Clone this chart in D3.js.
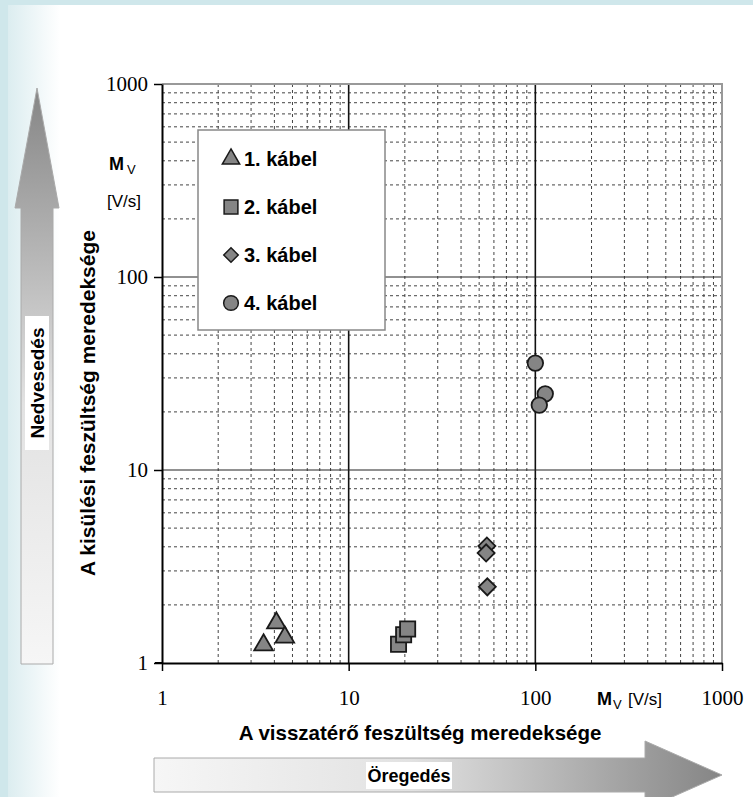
<!DOCTYPE html>
<html>
<head>
<meta charset="utf-8">
<title>Kábelek meredekség</title>
<script src="https://d3js.org/d3.v7.min.js"></script>
<style>
  body {margin: 0; background: #cfe7eb;}
  .lbl {font-family: "Liberation Sans", Arial, sans-serif; font-weight: bold; fill: #000;}
</style>
</head>
<body>
<script>
// adatok
var cables = ["1. kábel", "2. kábel", "3. kábel", "4. kábel"];
var shapes = ["triangle", "square", "diamond", "circle"];
var cable1X = [3.5, 4.1, 4.55], cable1Y = [1.24, 1.61, 1.36];
var cable2X = [18.5, 19.7, 20.7], cable2Y = [1.25, 1.40, 1.50];
var cable3X = [55, 54.5, 55.3], cable3Y = [4.04, 3.72, 2.48];
var cable4X = [100, 113, 105], cable4Y = [35.8, 24.8, 21.7];
var majorTicks = [1, 10, 100, 1000];

var W = 753, H = 797;
var svg = d3.select("body").append("svg").attr("width", W).attr("height", H)
    .style("display", "block");
var defs = svg.append("defs");

// háttér
var bg = defs.append("linearGradient").attr("id", "bg").attr("x1", 0).attr("x2", 1);
bg.append("stop").attr("offset", 0).attr("stop-color", "#dcedf0");
bg.append("stop").attr("offset", 0.07).attr("stop-color", "#ffffff");
svg.append("rect").attr("x", 8).attr("y", 5).attr("width", W - 8).attr("height", H - 5)
    .attr("fill", "url(#bg)");

var x = d3.scaleLog().domain([1, 1000]).range([162, 722]);
var y = d3.scaleLog().domain([1, 1000]).range([663, 84]);

var minor = [];
[1, 10, 100].forEach(function(d) { for (var k = 2; k <= 9; k++) minor.push(d * k); });

var g = svg.append("g");
g.selectAll(".vmin").data(minor).enter().append("line")
    .attr("x1", d => x(d)).attr("x2", d => x(d)).attr("y1", y(1000)).attr("y2", y(1))
    .attr("stroke", "#444").attr("stroke-width", 1).attr("stroke-dasharray", "3,3");
g.selectAll(".hmin").data(minor).enter().append("line")
    .attr("y1", d => y(d)).attr("y2", d => y(d)).attr("x1", x(1)).attr("x2", x(1000))
    .attr("stroke", "#444").attr("stroke-width", 1).attr("stroke-dasharray", "3,3");
g.selectAll(".vmaj").data([10, 100]).enter().append("line")
    .attr("x1", d => x(d)).attr("x2", d => x(d)).attr("y1", y(1000)).attr("y2", y(1))
    .attr("stroke", "#111").attr("stroke-width", 1.6);
g.selectAll(".hmaj").data([10, 100]).enter().append("line")
    .attr("y1", d => y(d)).attr("y2", d => y(d)).attr("x1", x(1)).attr("x2", x(1000))
    .attr("stroke", "#222").attr("stroke-width", 1);

// keret fent és jobbra
g.append("path").attr("d", "M" + x(1) + "," + y(1000) + "H" + x(1000) + "V" + y(1))
    .attr("fill", "none").attr("stroke", "#999").attr("stroke-width", 2);

// tengelyek
var xAxis = svg.append("g").attr("transform", "translate(0," + y(1) + ")")
    .call(d3.axisBottom(x).tickValues(majorTicks).tickSize(8).tickSizeOuter(0)
        .tickPadding(19).tickFormat(d3.format("d")));
var yAxis = svg.append("g").attr("transform", "translate(" + x(1) + ",0)")
    .call(d3.axisLeft(y).tickValues(majorTicks).tickSize(8).tickSizeOuter(0)
        .tickPadding(6).tickFormat(d3.format("d")));
[xAxis, yAxis].forEach(function(a) {
  a.attr("font-family", "Liberation Serif, Times New Roman, serif").attr("font-size", 21);
  a.select(".domain").attr("stroke", "#000").attr("stroke-width", 2);
  a.selectAll(".tick line").attr("stroke", "#000").attr("stroke-width", 1.5);
  a.selectAll(".tick text").attr("fill", "#000");
});
svg.append("line").attr("x1", 155).attr("x2", x(1)).attr("y1", y(1)).attr("y2", y(1))
    .attr("stroke", "#000").attr("stroke-width", 2);

// jelölők
var symTypes = {triangle: d3.symbolTriangle, square: d3.symbolSquare,
                diamond: d3.symbolSquare, circle: d3.symbolCircle};
var symSizes = {triangle: 150, square: 230, diamond: 145, circle: 190};
var series = [
  {xs: cable1X, ys: cable1Y, shape: "triangle"},
  {xs: cable2X, ys: cable2Y, shape: "square"},
  {xs: cable3X, ys: cable3Y, shape: "diamond"},
  {xs: cable4X, ys: cable4Y, shape: "circle"}
];
series.forEach(function(s) {
  var pts = s.xs.map((v, i) => [v, s.ys[i]]);
  svg.append("g").selectAll("path").data(pts).enter().append("path")
      .attr("d", d3.symbol().type(symTypes[s.shape]).size(symSizes[s.shape])())
      .attr("transform", d => "translate(" + x(d[0]) + "," + y(d[1]) + ")" +
            (s.shape === "diamond" ? " rotate(45)" : ""))
      .attr("fill", "#858585").attr("stroke", "#1a1a1a").attr("stroke-width", 1.8);
});

// jelmagyarázat
var leg = svg.append("g");
leg.append("rect").attr("x", 198).attr("y", 130).attr("width", 187).attr("height", 200)
    .attr("fill", "#fff").attr("stroke", "#888").attr("stroke-width", 1.5);
cables.forEach(function(c, i) {
  var yy = 159 + i * 48;
  var sh = shapes[i];
  leg.append("path").attr("d", d3.symbol().type(symTypes[sh])
        .size({triangle: 130, square: 190, diamond: 105, circle: 170}[sh])())
      .attr("transform", "translate(231," + yy + ")" + (sh === "diamond" ? " rotate(45)" : ""))
      .attr("fill", "#858585").attr("stroke", "#1a1a1a").attr("stroke-width", 1.5);
  leg.append("text").attr("class", "lbl").attr("x", 244).attr("y", yy + 7)
      .attr("font-size", 20).text(c);
});

// tengelycímek
var yl = svg.append("text").attr("class", "lbl").attr("font-size", 18)
    .attr("x", 109).attr("y", 170);
yl.append("tspan").text("M");
yl.append("tspan").attr("font-size", 13).attr("font-weight", "normal").attr("dx", 3).attr("dy", 4).text("V");
svg.append("text").attr("x", 107).attr("y", 207)
    .attr("font-family", "Liberation Sans, Arial, sans-serif").attr("font-size", 17).text("[V/s]");

var xl = svg.append("text").attr("class", "lbl").attr("font-size", 18)
    .attr("x", 597).attr("y", 705);
xl.append("tspan").text("M");
xl.append("tspan").attr("font-size", 13).attr("font-weight", "normal").attr("dx", 1).attr("dy", 4).text("V");
svg.append("text").attr("x", 628).attr("y", 705)
    .attr("font-family", "Liberation Sans, Arial, sans-serif").attr("font-size", 17).text("[V/s]");

svg.append("text").attr("class", "lbl").attr("font-size", 20.5).attr("text-anchor", "middle")
    .attr("x", 420).attr("y", 740).text("A visszatérő feszültség meredeksége");
svg.append("text").attr("class", "lbl").attr("font-size", 21).attr("text-anchor", "middle")
    .attr("transform", "translate(95,403) rotate(-90)").text("A kisülési feszültség meredeksége");

// nyilak
var gUp = defs.append("linearGradient").attr("id", "gup").attr("x1", 0).attr("y1", 1).attr("x2", 0).attr("y2", 0);
gUp.append("stop").attr("offset", 0).attr("stop-color", "#f6f6f6");
gUp.append("stop").attr("offset", 0.45).attr("stop-color", "#e2e2e2");
gUp.append("stop").attr("offset", 1).attr("stop-color", "#858585");
svg.append("path").attr("d", "M21,664 V208 H15 L37,88 L59,208 H53 V664 Z")
    .attr("fill", "url(#gup)").attr("stroke", "#aaa").attr("stroke-width", 1);
svg.append("rect").attr("x", 25).attr("y", 316).attr("width", 24).attr("height", 134).attr("fill", "#fff");
svg.append("text").attr("class", "lbl").attr("font-size", 19).attr("text-anchor", "middle")
    .attr("transform", "translate(44,383) rotate(-90)").text("Nedvesedés");

var gRt = defs.append("linearGradient").attr("id", "grt").attr("x1", 0).attr("x2", 1);
gRt.append("stop").attr("offset", 0).attr("stop-color", "#f6f6f6");
gRt.append("stop").attr("offset", 0.45).attr("stop-color", "#e2e2e2");
gRt.append("stop").attr("offset", 1).attr("stop-color", "#858585");
svg.append("path").attr("d", "M154,758 H645 V741 L722,775 L645,809 V792 H154 Z")
    .attr("fill", "url(#grt)").attr("stroke", "#aaa").attr("stroke-width", 1);
svg.append("rect").attr("x", 366).attr("y", 762).attr("width", 86).attr("height", 27).attr("fill", "#fff");
svg.append("text").attr("class", "lbl").attr("font-size", 18).attr("text-anchor", "middle")
    .attr("x", 409).attr("y", 782).text("Öregedés");
</script>
</body>
</html>
